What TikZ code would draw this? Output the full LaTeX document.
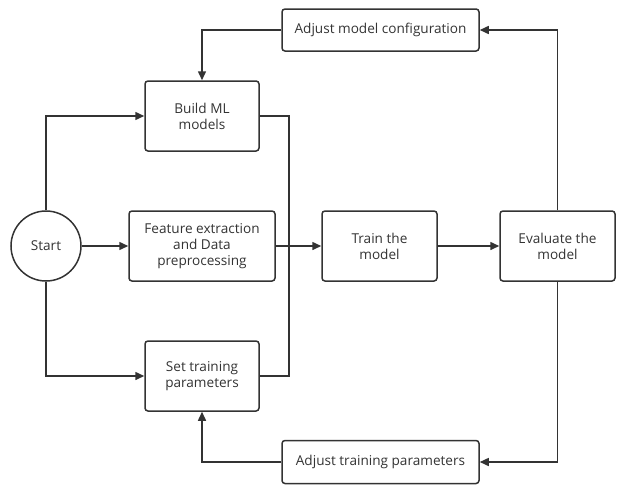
\documentclass[tikz,border=0pt]{standalone}
\usepackage{fontspec}
\setmainfont{Open Sans}
\usetikzlibrary{arrows.meta}
\definecolor{ln}{HTML}{333333}
\begin{document}
\begin{tikzpicture}[x=1pt,y=-1pt,
  box/.style={draw=ln,line width=1.5pt,rounded corners=3pt,align=center,inner sep=0pt,
    font=\fontsize{13.6}{16.2}\selectfont,text=ln},
  conn/.style={draw=ln,line width=1.5pt},
  arr/.style={conn,-{Triangle[length=9pt,width=8pt]}}]
\useasboundingbox (0,0) rectangle (623,490);
\node[draw=ln,line width=1.5pt,circle,minimum size=70pt,inner sep=0pt,font=\fontsize{13.6}{16.2}\selectfont,text=ln] (start) at (46,246) {Start};
\node[box,minimum width=114pt,minimum height=70pt] (build) at (202,116) {Build ML\\models};
\node[box,minimum width=146pt,minimum height=70pt] (feat) at (202,246) {Feature extraction\\and Data\\preprocessing};
\node[box,minimum width=114pt,minimum height=70pt] (set) at (202,376) {Set training\\parameters};
\node[box,minimum width=115pt,minimum height=70pt] (train) at (379.5,246) {Train the\\model};
\node[box,minimum width=115pt,minimum height=70pt] (eval) at (557.5,246) {Evaluate the\\model};
\node[box,minimum width=197pt,minimum height=42pt] (adjm) at (380.5,30) {Adjust model configuration};
\node[box,minimum width=197pt,minimum height=43pt] (adjt) at (380.5,462) {Adjust training parameters};
\coordinate (j) at (289,246);
\draw[arr] (start.north) |- (build.west);
\draw[arr] (start.south) |- (set.west);
\draw[arr] (start.east) -- (feat.west);
\draw[conn] (build.east) -| (j) |- (set.east);
\draw[arr] (feat.east) -- (train.west);
\draw[arr] (train.east) -- (eval.west);
\draw[arr] (eval.north) |- (adjm.east);
\draw[arr] (adjm.west) -| (build.north);
\draw[arr] (eval.south) |- (adjt.east);
\draw[arr] (adjt.west) -| (set.south);
\end{tikzpicture}
\end{document}
